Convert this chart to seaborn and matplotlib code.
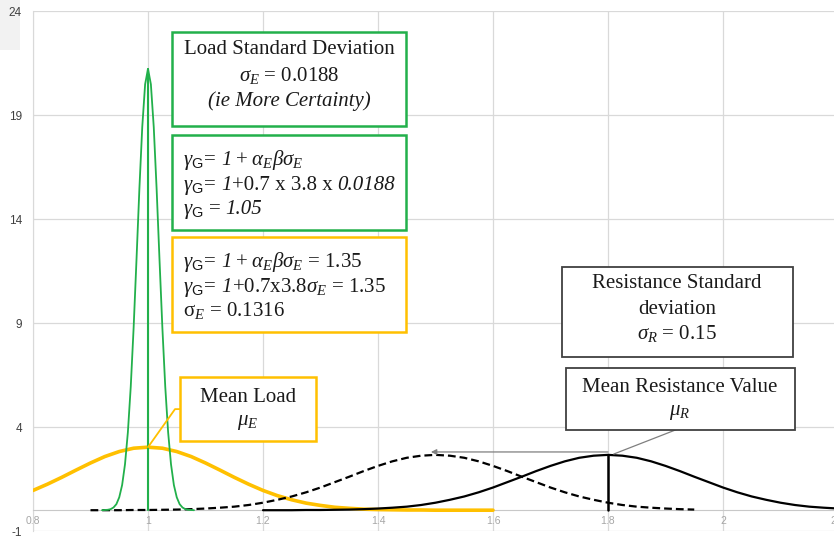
import seaborn as sns
import pandas as pd
import matplotlib.pyplot as plt
from matplotlib.patches import Rectangle

# load curve, sigma = 0.0188 (green)
green_x = [0.92, 0.925, 0.93, 0.935, 0.94, 0.945, 0.95, 0.955, 0.96, 0.965, 0.97, 0.975, 0.98, 0.985,
           0.99, 0.995, 1.0, 1.005, 1.01, 1.015, 1.02, 1.025, 1.03, 1.035, 1.04, 1.045, 1.05, 1.055,
           1.06, 1.065, 1.07, 1.075, 1.08]
green_y = [0.0, 0.01, 0.02, 0.05, 0.13, 0.29, 0.62, 1.21, 2.21, 3.75, 5.94, 8.77, 12.05, 15.44,
           18.42, 20.48, 21.22, 20.48, 18.42, 15.44, 12.05, 8.77, 5.94, 3.75, 2.21, 1.21, 0.62, 0.29,
           0.13, 0.05, 0.02, 0.01, 0.0]

# load curve, sigma = 0.1316 (yellow)
yellow_x = [0.8, 0.825, 0.85, 0.875, 0.9, 0.925, 0.95, 0.975, 1.0, 1.025, 1.05, 1.075, 1.1, 1.125,
            1.15, 1.175, 1.2, 1.225, 1.25, 1.275, 1.3, 1.325, 1.35, 1.375, 1.4, 1.425, 1.45, 1.475,
            1.5, 1.525, 1.55, 1.575, 1.6]
yellow_y = [0.95, 1.25, 1.58, 1.93, 2.27, 2.58, 2.82, 2.98, 3.03, 2.98, 2.82, 2.58, 2.27, 1.93,
            1.58, 1.25, 0.95, 0.70, 0.50, 0.34, 0.23, 0.14, 0.09, 0.05, 0.03, 0.02, 0.01, 0.01,
            0.0, 0.0, 0.0, 0.0, 0.0]

# resistance curve, mean 1.8 (solid black)
res_x = [1.2, 1.225, 1.25, 1.275, 1.3, 1.325, 1.35, 1.375, 1.4, 1.425, 1.45, 1.475, 1.5, 1.525,
         1.55, 1.575, 1.6, 1.625, 1.65, 1.675, 1.7, 1.725, 1.75, 1.775, 1.8, 1.825, 1.85, 1.875,
         1.9, 1.925, 1.95, 1.975, 2.0, 2.025, 2.05, 2.075, 2.1, 2.125, 2.15, 2.175, 2.2, 2.225, 2.25]
res_y = [0.0, 0.0, 0.0, 0.01, 0.01, 0.02, 0.03, 0.05, 0.08, 0.12, 0.17, 0.25, 0.36, 0.50,
         0.66, 0.86, 1.09, 1.35, 1.61, 1.88, 2.13, 2.35, 2.52, 2.62, 2.66, 2.62, 2.52, 2.35,
         2.13, 1.88, 1.61, 1.35, 1.09, 0.86, 0.66, 0.50, 0.36, 0.25, 0.17, 0.12, 0.08, 0.05, 0.03]

# shifted resistance curve, mean 1.5 (dashed black)
shift_x = [0.9, 0.925, 0.95, 0.975, 1.0, 1.025, 1.05, 1.075, 1.1, 1.125, 1.15, 1.175, 1.2, 1.225,
           1.25, 1.275, 1.3, 1.325, 1.35, 1.375, 1.4, 1.425, 1.45, 1.475, 1.5, 1.525, 1.55, 1.575,
           1.6, 1.625, 1.65, 1.675, 1.7, 1.725, 1.75, 1.775, 1.8, 1.825, 1.85, 1.875, 1.9, 1.925, 1.95]
shift_y = [0.0, 0.0, 0.0, 0.01, 0.01, 0.02, 0.03, 0.05, 0.08, 0.12, 0.17, 0.25, 0.36, 0.50,
           0.66, 0.86, 1.09, 1.35, 1.61, 1.88, 2.13, 2.35, 2.52, 2.62, 2.66, 2.62, 2.52, 2.35,
           2.13, 1.88, 1.61, 1.35, 1.09, 0.86, 0.66, 0.50, 0.36, 0.25, 0.17, 0.12, 0.08, 0.05, 0.03]

x_ticks = [0.8, 1.0, 1.2, 1.4, 1.6, 1.8, 2.0, 2.2]
x_labels = ['0.8', '1', '1.2', '1.4', '1.6', '1.8', '2', '2.2']
y_ticks = [-1, 4, 9, 14, 19, 24]

GREEN = '#22b04b'
YELLOW = '#ffc000'
GRID = '#d9d9d9'

sns.set_style('white')
plt.rcParams['mathtext.fontset'] = 'custom'
plt.rcParams['mathtext.rm'] = 'Liberation Serif'
plt.rcParams['mathtext.it'] = 'Liberation Serif:italic'
plt.rcParams['mathtext.sf'] = 'Liberation Sans'
plt.rcParams['axes.unicode_minus'] = False
plt.rcParams['font.family'] = ['Liberation Sans', 'DejaVu Sans']

W, H = 834, 538
fig = plt.figure(figsize=(W / 100, H / 100), dpi=100)

# light gray patch top-left (behind everything)
fig.patches.append(Rectangle((0, 1 - 50 / H), 20 / W, 50 / H, transform=fig.transFigure,
                             facecolor='#f2f2f2', edgecolor='none', zorder=-5))

ax = fig.add_axes([33 / W, 7 / H, 805 / W, 520 / H])
ax.patch.set_alpha(0)


def fx(px):
    return px / W


def fy(py):
    return 1 - py / H


# curves
sns.lineplot(x=yellow_x, y=yellow_y, ax=ax, color=YELLOW, linewidth=2.6, zorder=3)
sns.lineplot(x=shift_x, y=shift_y, ax=ax, color='black', linewidth=1.6,
             linestyle=(0, (3.5, 1.8)), zorder=3)
sns.lineplot(x=res_x, y=res_y, ax=ax, color='black', linewidth=1.6, zorder=3)
sns.lineplot(x=green_x, y=green_y, ax=ax, color=GREEN, linewidth=1.3, zorder=4)

# mean lines
ax.plot([1.0, 1.0], [0, max(green_y)], color=GREEN, lw=1.5, zorder=4)
ax.plot([1.8, 1.8], [0, max(res_y)], color='black', lw=1.8, zorder=4)

# axes styling
ax.set_xlim(0.8, 2.2)
ax.set_ylim(-1, 24)
ax.set_xticks(x_ticks)
ax.set_xticklabels(x_labels)
ax.set_yticks(y_ticks)
ax.tick_params(axis='x', length=0, pad=4, labelsize=7.5, labelcolor='#a6a6a6')
ax.tick_params(axis='y', length=3, color=GRID, pad=5, labelsize=8.5, labelcolor='#404040')
ax.grid(True, color=GRID, lw=0.9)
ax.set_axisbelow(True)
for s in ['top', 'right']:
    ax.spines[s].set_visible(False)
ax.spines['left'].set_color(GRID)
ax.spines['bottom'].set_color('#c8c8c8')
ax.spines['bottom'].set_position(('data', 0))
ax.set_xlabel('')
ax.set_ylabel('')

# leader lines and arrow
ax.plot([1.0, 1.047, 1.056], [3.03, 4.86, 4.86], color=YELLOW, lw=1.3, zorder=5)
ax.plot([1.81, 1.925], [2.7, 3.94], color='#7f7f7f', lw=0.9, zorder=5)
ax.annotate('', xy=(1.492, 2.8), xytext=(1.8, 2.8),
            arrowprops=dict(arrowstyle='-|>', color='#7f7f7f', lw=0.9,
                            mutation_scale=8, shrinkA=0, shrinkB=0), zorder=5)


def box(x0, y0, x1, y1, edge, lw=1.8):
    fig.add_artist(Rectangle((fx(x0), fy(y1)), (x1 - x0) / W, (y1 - y0) / H,
                             transform=fig.transFigure, facecolor='white',
                             edgecolor=edge, lw=lw, zorder=10))


def txt(px, py, s, ha='center', size=15, style='normal'):
    return fig.text(fx(px), fy(py), s, ha=ha, va='center', fontsize=size, style=style,
                    family='Liberation Serif', color='#1a1a1a', zorder=11)


renderer = fig.canvas.get_renderer()


# a left-aligned line made of pieces (text, style, gap before in px)
def rich(px, py, pieces, size=15):
    x = px
    for s, style, gap in pieces:
        t = fig.text(fx(x + gap), fy(py + 5), s, ha='left', va='baseline', fontsize=size,
                     style=style, family='Liberation Serif', color='#1a1a1a', zorder=11)
        x = t.get_window_extent(renderer).x1


gam = r'$\gamma_{\mathsf{G}}$'
N, I = 'normal', 'italic'

box(172, 32, 406, 126, GREEN)
txt(289, 49, 'Load Standard Deviation')
txt(289, 75, r'$\sigma_E$ = 0.0188')
txt(289, 101, r'(ie More Certainty)', style='italic')

box(172, 135, 406, 230, GREEN)
rich(183, 160, [(gam + '=', N, 0), ('1', I, 5), (r'$+\ \alpha_E\beta\sigma_E$', N, 4)])
rich(183, 185, [(gam + '=', N, 0), ('1', I, 5), ('+0.7 x 3.8 x', N, 1), ('0.0188', I, 4)])
rich(183, 209, [(gam + ' =', N, 0), ('1.05', I, 4)])

box(172, 237, 406, 332, YELLOW)
rich(183, 262, [(gam + '=', N, 0), ('1', I, 5), (r'$+\ \alpha_E\beta\sigma_E$ = 1.35', N, 4)])
rich(183, 287, [(gam + '=', N, 0), ('1', I, 5), (r'+0.7x3.8$\sigma_E$ = 1.35', N, 1)])
rich(183, 311, [(r'$\mathrm{\sigma}_E$ = 0.1316', N, 0)])

box(562, 267, 793, 357, '#404040', lw=1.3)
txt(677, 284, 'Resistance Standard')
txt(677, 309, 'deviation')
txt(677, 334, r'$\sigma_R$ = 0.15')

box(566, 368, 795, 430, '#404040', lw=1.3)
txt(680, 387, 'Mean Resistance Value')
txt(680, 413, r'$\mu_R$')

box(180, 377, 316, 441, YELLOW)
txt(248, 397, 'Mean Load')
txt(248, 423, r'$\mu_E$')

plt.savefig('out.png', dpi=100)
